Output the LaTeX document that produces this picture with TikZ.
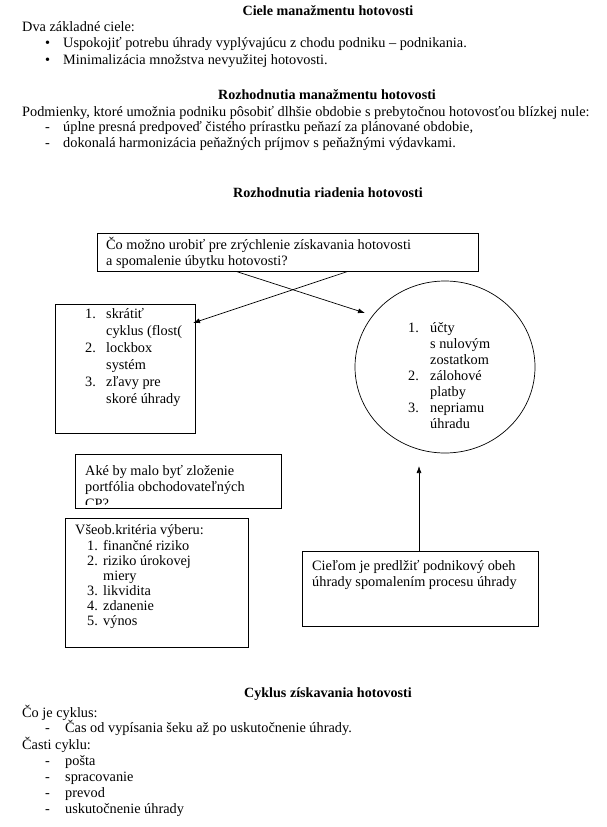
\documentclass[tikz,border=0pt]{standalone}
\usepackage{fontspec}
\setmainfont{Liberation Serif}
\usetikzlibrary{arrows.meta,shapes.geometric,calc}
\begin{document}
\begin{tikzpicture}[x=1pt,y=-1pt,
  txt/.style={anchor=base west,inner sep=0pt,font=\fontsize{14.3}{16}\selectfont},
  ttl/.style={anchor=base,inner sep=0pt,font=\fontsize{14.1}{16}\selectfont\bfseries},
  boxs/.style={draw,line width=0.7pt,inner sep=0pt,anchor=north west},
  conn/.style={line width=0.7pt,-{Latex[length=7pt,width=5pt]}}]
\useasboundingbox (0,0) rectangle (606,827);

% ---- section 1
\node[ttl] (t1) at (328,15) {Ciele manažmentu hotovosti};
\node[txt] (a0) at (22,31) {Dva základné ciele:};
\node[txt] (a1b) at (45,47) {•};
\node[txt] (a1) at (63,47) {Uspokojiť potrebu úhrady vyplývajúcu z chodu podniku – podnikania.};
\node[txt] (a2b) at (45,64) {•};
\node[txt] (a2) at (63,64) {Minimalizácia množstva nevyužitej hotovosti.};

% ---- section 2
\node[ttl] (t2) at (327,99) {Rozhodnutia manažmentu hotovosti};
\node[txt] (b0) at (22,116) {Podmienky, ktoré umožnia podniku pôsobiť dlhšie obdobie s prebytočnou hotovosťou blízkej nule:};
\node[txt] (b1d) at (45,131) {-};
\node[txt] (b1) at (63,131) {úplne presná predpoveď čistého prírastku peňazí za plánované obdobie,};
\node[txt] (b2d) at (45,147) {-};
\node[txt] (b2) at (63,147) {dokonalá harmonizácia peňažných príjmov s peňažnými výdavkami.};

% ---- section 3 diagram
\node[ttl] (t3) at (328,197) {Rozhodnutia riadenia hotovosti};

\node[boxs,minimum width=381pt,minimum height=38pt] (qbox) at (97,233) {};
\node[txt] (q1) at (106,249) {Čo možno urobiť pre zrýchlenie získavania hotovosti};
\node[txt] (q2) at (106,265) {a spomalenie úbytku hotovosti?};

\node[boxs,minimum width=140pt,minimum height=129pt] (lbox) at (55,304) {};
\node[txt] (l1n) at (85,318) {1.};
\node[txt] (l1) at (106,318) {skrátiť};
\node[txt] (l1b) at (106,335) {cyklus (flost(};
\node[txt] (l2n) at (85,352) {2.};
\node[txt] (l2) at (106,352) {lockbox};
\node[txt] (l2b) at (106,369) {systém};
\node[txt] (l3n) at (85,386) {3.};
\node[txt] (l3) at (106,386) {zľavy pre};
\node[txt] (l3b) at (106,403) {skoré úhrady};

\node[draw,line width=0.7pt,ellipse,minimum width=180pt,minimum height=172pt,inner sep=0pt] (circ) at (445,367) {};
\node[txt] (c1n) at (408,332) {1.};
\node[txt] (c1) at (430,332) {účty};
\node[txt] (c1b) at (430,348) {s nulovým};
\node[txt] (c1c) at (430,364) {zostatkom};
\node[txt] (c2n) at (408,380) {2.};
\node[txt] (c2) at (430,380) {zálohové};
\node[txt] (c2b) at (430,396) {platby};
\node[txt] (c3n) at (408,412) {3.};
\node[txt] (c3) at (430,412) {nepriamu};
\node[txt] (c3b) at (430,428) {úhradu};

\node[boxs,minimum width=206pt,minimum height=54pt] (pbox) at (75,454) {};
\begin{scope}
\clip (75,454) rectangle (281,504);
\node[txt] (p1) at (85,475) {Aké by malo byť zloženie};
\node[txt] (p2) at (85,491) {portfólia obchodovateľných};
\node[txt] (p3) at (85,508) {CP?};
\end{scope}

\node[boxs,minimum width=183pt,minimum height=129pt] (kbox) at (65,518) {};
\node[txt] (k0) at (75,534) {Všeob.kritéria výberu:};
\node[txt] (k1n) at (87,550) {1.};
\node[txt] (k1) at (103,550) {finančné riziko};
\node[txt] (k2n) at (87,565) {2.};
\node[txt] (k2) at (103,565) {riziko úrokovej};
\node[txt] (k2b) at (103,580) {miery};
\node[txt] (k3n) at (87,595) {3.};
\node[txt] (k3) at (103,595) {likvidita};
\node[txt] (k4n) at (87,610) {4.};
\node[txt] (k4) at (103,610) {zdanenie};
\node[txt] (k5n) at (87,625) {5.};
\node[txt] (k5) at (103,625) {výnos};

\node[boxs,minimum width=236pt,minimum height=75pt] (gbox) at (302,551) {};
\node[txt] (g1) at (312,570) {Cieľom je predlžiť podnikový obeh};
\node[txt] (g2) at (312,586) {úhrady spomalením procesu úhrady};

% connectors
\coordinate (qa) at ($(qbox.south west)+(140,0)$);
\coordinate (qb) at ($(qbox.south west)+(250,0)$);
\coordinate (ta) at (365,313);
\coordinate (tb) at (193,323);
\draw[conn] (qa) -- (ta);
\draw[conn] (qb) -- (tb);
\coordinate (ga) at ($(gbox.north west)+(117,0)$);
\coordinate (gt) at (419,466);
\draw[conn] (ga) -- (gt);

% ---- section 4
\node[ttl] (t4) at (328,697) {Cyklus získavania hotovosti};
\node[txt] (d0) at (22,717) {Čo je cyklus:};
\node[txt] (d1d) at (45,732) {-};
\node[txt] (d1) at (65,732) {Čas od vypísania šeku až po uskutočnenie úhrady.};
\node[txt] (e0) at (22,749) {Časti cyklu:};
\node[txt] (e1d) at (45,765) {-};
\node[txt] (e1) at (65,765) {pošta};
\node[txt] (e2d) at (45,781) {-};
\node[txt] (e2) at (65,781) {spracovanie};
\node[txt] (e3d) at (45,797) {-};
\node[txt] (e3) at (65,797) {prevod};
\node[txt] (e4d) at (45,813) {-};
\node[txt] (e4) at (65,813) {uskutočnenie úhrady};
\end{tikzpicture}
\end{document}
